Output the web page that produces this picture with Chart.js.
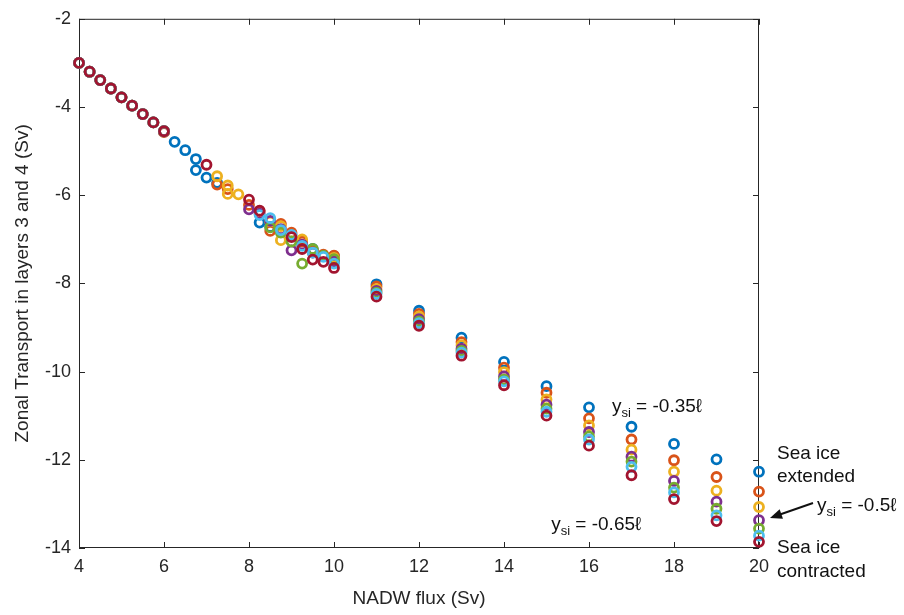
<!DOCTYPE html>
<html>
<head>
<meta charset="utf-8">
<script src="https://cdn.jsdelivr.net/npm/chart.js@4.4.0/dist/chart.umd.min.js"></script>
<style>
  html, body { margin: 0; padding: 0; background: #fff; }
  canvas { display: block; }
</style>
</head>
<body>
<canvas id="myChart" width="904" height="615"></canvas>
<script>
// MATLAB default line colours, one per sea ice position
var colors = ['rgb(0,114,189)', 'rgb(217,83,25)', 'rgb(237,177,32)', 'rgb(126,47,142)',
              'rgb(119,172,48)', 'rgb(77,190,238)', 'rgb(162,20,47)'];

// low NADW runs, shared by every series
var lowX = [4, 4.25, 4.5, 4.75, 5, 5.25, 5.5, 5.75, 6];
var lowY = [-3.0, -3.2, -3.39, -3.58, -3.78, -3.97, -4.16, -4.35, -4.55];

// the 6-10 Sv cloud, per series
var midX = [
  [6.25, 6.5, 6.75, 6.75, 7, 7.25, 8.25, 8.5, 9, 9.5, 10],
  [6, 7.25, 7.5, 8, 8.25, 8.5, 8.75, 9, 9.25, 9.5, 9.75, 10],
  [7.25, 7.5, 7.5, 7.75, 8.5, 8.75, 8.75, 9.25, 10],
  [8, 8.25, 8.5, 8.75, 9, 9.25, 9.5, 10],
  [8.5, 8.75, 9, 9.25, 9.5, 9.75, 10],
  [8.25, 8.5, 8.75, 9, 9.25, 9.5, 9.75, 10],
  [7, 8, 8.25, 9, 9.25, 9.5, 9.75, 10]
];
var midY = [
  [-4.79, -4.98, -5.18, -5.43, -5.6, -5.72, -6.62, -6.72, -6.9, -7.22, -7.38],
  [-4.57, -5.76, -5.86, -6.22, -6.36, -6.81, -6.65, -6.85, -7.05, -7.25, -7.35, -7.37],
  [-5.57, -5.78, -5.97, -5.98, -6.6, -6.7, -7.02, -7.0, -7.42],
  [-6.32, -6.42, -6.58, -6.77, -7.25, -7.12, -7.3, -7.5],
  [-6.73, -6.85, -7.05, -7.55, -7.22, -7.37, -7.45],
  [-6.45, -6.52, -6.79, -6.9, -7.15, -7.3, -7.4, -7.55],
  [-5.31, -6.10, -6.35, -6.95, -7.22, -7.46, -7.51, -7.65]
];

// 11-20 Sv runs
var highX = [11, 12, 13, 14, 15, 16, 17, 18, 19, 20];
var highY = [
  [-8.02, -8.62, -9.23, -9.78, -10.33, -10.81, -11.25, -11.64, -11.99, -12.27],
  [-8.07, -8.69, -9.33, -9.91, -10.48, -11.06, -11.54, -12.01, -12.39, -12.72],
  [-8.13, -8.75, -9.40, -10.01, -10.63, -11.22, -11.77, -12.27, -12.70, -13.07],
  [-8.17, -8.81, -9.48, -10.11, -10.75, -11.37, -11.93, -12.48, -12.95, -13.37],
  [-8.21, -8.86, -9.53, -10.18, -10.84, -11.47, -12.04, -12.63, -13.11, -13.56],
  [-8.24, -8.90, -9.57, -10.22, -10.91, -11.54, -12.16, -12.74, -13.26, -13.72],
  [-8.30, -8.96, -9.64, -10.31, -11.00, -11.68, -12.35, -12.89, -13.39, -13.86]
];

var xTicks = [4, 6, 8, 10, 12, 14, 16, 18, 20];
var yTicks = [-14, -12, -10, -8, -6, -4, -2];

var FONT = '"Liberation Sans", Arial, Helvetica, sans-serif';
var INK = '#262626';

function toPoints(xs, ys) {
  return xs.map(function(v, i) { return { x: v, y: ys[i] }; });
}

var datasets = colors.map(function(c, i) {
  return {
    label: 'series ' + (i + 1),
    data: toPoints(lowX, lowY).concat(toPoints(midX[i], midY[i]), toPoints(highX, highY[i])),
    borderColor: c,
    backgroundColor: 'transparent',
    pointRadius: 4.5,
    pointBorderWidth: 2.8,
    showLine: false,
    clip: false,
    order: colors.length - i   // later series drawn on top, like MATLAB
  };
});

// box with inward ticks on all four sides
var boxPlugin = {
  id: 'box',
  beforeDatasetsDraw: function(chart) {
    var ctx = chart.ctx, a = chart.chartArea, x = chart.scales.x, y = chart.scales.y;
    ctx.save();
    ctx.strokeStyle = INK;
    ctx.lineWidth = 1;
    ctx.strokeRect(a.left + 0.5, a.top + 0.5, a.right - a.left - 1, a.bottom - a.top - 1);
    ctx.beginPath();
    xTicks.forEach(function(v) {
      var px = Math.round(x.getPixelForValue(v)) + 0.5;
      ctx.moveTo(px, a.bottom); ctx.lineTo(px, a.bottom - 6);
      ctx.moveTo(px, a.top); ctx.lineTo(px, a.top + 6);
    });
    yTicks.forEach(function(v) {
      var py = Math.round(y.getPixelForValue(v)) + 0.5;
      ctx.moveTo(a.left, py); ctx.lineTo(a.left + 6, py);
      ctx.moveTo(a.right, py); ctx.lineTo(a.right - 6, py);
    });
    ctx.stroke();
    ctx.restore();
  }
};

function ysiLabel(ctx, px, py, value) {
  ctx.font = '19px ' + FONT;
  ctx.fillText('y', px, py);
  var w = ctx.measureText('y').width;
  ctx.font = '13px ' + FONT;
  ctx.fillText('si', px + w, py + 5);
  var w2 = ctx.measureText('si').width;
  ctx.font = '19px ' + FONT;
  ctx.fillText(' = ' + value + '\u2113', px + w + w2, py);
}

var notesPlugin = {
  id: 'notes',
  afterDraw: function(chart) {
    var ctx = chart.ctx, a = chart.chartArea, x = chart.scales.x, y = chart.scales.y;
    ctx.save();
    ctx.fillStyle = '#111';
    ctx.textBaseline = 'alphabetic';
    ctx.textAlign = 'left';
    ysiLabel(ctx, x.getPixelForValue(16.54), y.getPixelForValue(-10.91), '-0.35');
    ysiLabel(ctx, x.getPixelForValue(15.11), y.getPixelForValue(-13.6), '-0.65');

    var r = a.right;
    ysiLabel(ctx, r + 58, 511, '-0.5');
    ctx.font = '19px ' + FONT;
    ctx.fillText('Sea ice', r + 18, 459);
    ctx.fillText('extended', r + 18, 482);
    ctx.fillText('Sea ice', r + 18, 553);
    ctx.fillText('contracted', r + 18, 577);

    // arrow to the -0.5 series
    var x0 = r + 54, y0 = 503, x1 = r + 11, y1 = 518;
    var ang = Math.atan2(y1 - y0, x1 - x0);
    ctx.strokeStyle = '#111';
    ctx.lineWidth = 2;
    ctx.beginPath();
    ctx.moveTo(x0, y0);
    ctx.lineTo(x1 - 9 * Math.cos(ang), y1 - 9 * Math.sin(ang));
    ctx.stroke();
    ctx.beginPath();
    ctx.moveTo(x1, y1);
    ctx.lineTo(x1 - 13 * Math.cos(ang - 0.4), y1 - 13 * Math.sin(ang - 0.4));
    ctx.lineTo(x1 - 13 * Math.cos(ang + 0.4), y1 - 13 * Math.sin(ang + 0.4));
    ctx.closePath();
    ctx.fill();
    ctx.restore();
  }
};

var ctx = document.getElementById('myChart');

var chart = new Chart(ctx, {
  type: 'scatter',
  data: { datasets: datasets },
  plugins: [boxPlugin, notesPlugin],
  options: {
    responsive: false,
    animation: false,
    events: [],
    layout: { padding: { top: 12, right: 145, left: 0, bottom: 0 } },
    plugins: {
      legend: { display: false },
      tooltip: { enabled: false }
    },
    scales: {
      x: {
        type: 'linear',
        min: 4,
        max: 20,
        afterBuildTicks: function(s) { s.ticks = xTicks.map(function(v) { return { value: v }; }); },
        afterFit: function(s) { s.height = 67; },
        grid: { display: false, drawTicks: false },
        border: { display: false },
        ticks: { font: { family: FONT, size: 18 }, color: INK, padding: 8, maxRotation: 0 },
        title: {
          display: true,
          text: 'NADW flux (Sv)',
          font: { family: FONT, size: 19 },
          color: INK,
          padding: { top: 4, bottom: 5 }
        }
      },
      y: {
        type: 'linear',
        min: -14,
        max: -2,
        afterBuildTicks: function(s) { s.ticks = yTicks.map(function(v) { return { value: v }; }); },
        afterFit: function(s) { s.width = 79; },
        grid: { display: false, drawTicks: false },
        border: { display: false },
        ticks: { font: { family: FONT, size: 18 }, color: INK, padding: 8 },
        title: {
          display: true,
          text: 'Zonal Transport in layers 3 and 4 (Sv)',
          font: { family: FONT, size: 19 },
          color: INK,
          padding: { top: 11, bottom: 0 }
        }
      }
    }
  }
});
</script>
</body>
</html>
